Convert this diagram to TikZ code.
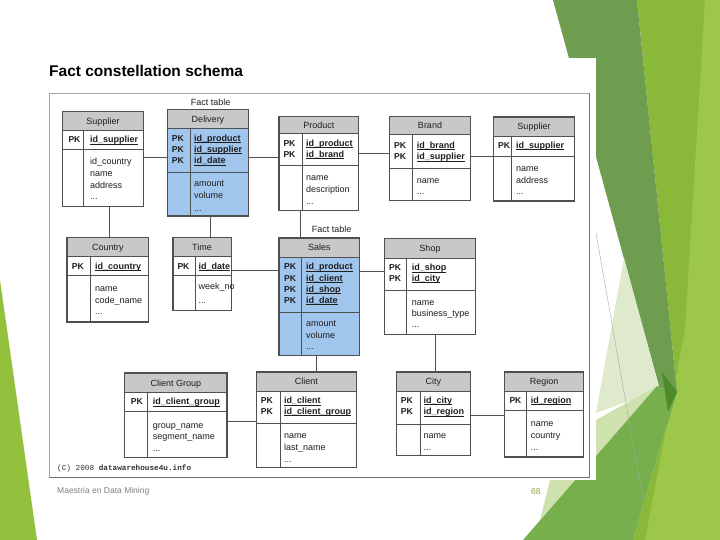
\documentclass[tikz,border=0pt]{standalone}
\usepackage{fontspec}
\setmainfont{Liberation Sans}
\setmonofont{Liberation Mono}
\usetikzlibrary{fit}
\definecolor{tline}{HTML}{505050}
\definecolor{hdrgray}{HTML}{C8C8C8}
\definecolor{factblue}{HTML}{A1C6EE}
\definecolor{txtcol}{HTML}{1E1E1E}
\definecolor{framelt}{HTML}{A8A8A8}
\definecolor{framedk}{HTML}{707070}
\definecolor{gmid}{HTML}{8AB839}
\definecolor{glight}{HTML}{9DC74A}
\definecolor{gdark}{HTML}{6F9D4F}
\definecolor{gpale}{HTML}{DFEACD}
\definecolor{glt}{HTML}{CFE2AE}
\definecolor{gmed}{HTML}{77AF4C}
\definecolor{gdeep}{HTML}{4E8B2D}
\definecolor{gleft}{HTML}{93C13D}
\definecolor{pagenum}{HTML}{8CA542}
\tikzset{
  tbody/.style={inner sep=0pt, draw=none},
  sepline/.style={draw=tline, line width=0.8pt},
  tborder/.style={draw=tline, line width=1.3pt},
  conn/.style={draw=tline, line width=0.9pt},
  ttext/.style={font=\fontsize{9}{11}\selectfont, text=txtcol, inner sep=0pt, anchor=base west, yshift=-3.2pt},
  htext/.style={font=\fontsize{9}{11}\selectfont, text=txtcol, inner sep=0pt, anchor=base, yshift=-3.2pt},
}
\newcommand\keyf[1]{\setbox0\hbox{\textbf{#1}}\rlap{\rule[-1.4pt]{\wd0}{0.6pt}}\box0}
\newcommand\ddd{...}
\newcommand\pkl{{\fontsize{8.6}{11}\selectfont\textbf{PK}}}
\newcommand\tbl[9]{%
  \node[tbody, fill=#9, fit={(#2,#3)(#4,#5)}] (#1) {};
  \fill[hdrgray] (#2,#3) rectangle (#4,#6);
  \draw[sepline] (#2,#6) -- (#4,#6) (#2,#7) -- (#4,#7) (#8,#6) -- (#8,#5);
  \draw[tborder] (#1.north west) rectangle (#1.south east);
}
\newcommand\rows[5]{\foreach \t [count=\i from 0] in {#5} {\node[ttext] (#1\i) at (#2,#3+\i*#4) {\t};}}
\begin{document}
\begin{tikzpicture}[x=1pt,y=-1pt]
\useasboundingbox (0,0) rectangle (720,540);
% background decoration
\fill[gmid] (637,0) -- (720,0) -- (720,540) -- (633,540) -- (677,392) -- cycle;
\fill[glight] (705,0) -- (720,0) -- (720,540) -- (645,540) -- (685,330) -- cycle;
\fill[gdark] (553,0) -- (637,0) -- (677,392) -- (660,390) -- cycle;
\fill[gpale] (624,258) -- (660,390) -- (596,413) -- cycle;
\fill[glt] (657,386) -- (560,440) -- (540,520) -- cycle;
\fill[gmed] (523,540) -- (657,386) -- (677,392) -- (633,540) -- cycle;
\fill[gdeep] (662,372) -- (677,392) -- (668,412) -- cycle;
\draw[gray!70, line width=0.4pt] (596,233) -- (643,500);
\fill[gleft] (0,280) -- (37,540) -- (0,540) -- cycle;
% picture area
\fill[white] (45,58) rectangle (596,480);
\draw[framelt, line width=0.8pt] (49,93) rectangle (589,477);
\draw[framedk, line width=0.8pt] (589,93) -- (589,477) -- (49,477);
% title
\node[anchor=base west, inner sep=0pt, font=\fontsize{15.5}{18}\selectfont\bfseries] (title) at (49,76.5) {Fact constellation schema};
% tables
\tbl{sup1}{62.7}{111.7}{143.3}{206}{130}{149.3}{83.3}{white}
\node[htext] (sup1h) at (103,120.9) {Supplier};
\rows{sup1k}{68.3}{139.7}{11.5}{\pkl}
\rows{sup1p}{90}{139.7}{11.5}{\keyf{id\_supplier}}
\rows{sup1a}{90}{161.7}{11.7}{id\_country,name,address,\ddd}

\tbl{del}{167.7}{110}{248.3}{215.7}{128.3}{172.7}{190}{factblue}
\node[htext] (delh) at (208,119.2) {Delivery};
\node[htext] (fact1) at (210.7,102.3) {Fact table};
\rows{delk}{171.7}{138.3}{11.2}{\pkl,\pkl,\pkl}
\rows{delp}{194}{138.3}{11.2}{\keyf{id\_product},\keyf{id\_supplier},\keyf{id\_date}}
\rows{dela}{194}{183.3}{12.5}{amount,volume,\ddd}

\tbl{prod}{279.3}{116.7}{358.3}{210}{133.3}{165.7}{302.3}{white}
\node[htext] (prodh) at (318.8,125) {Product};
\rows{prodk}{283.3}{143.3}{10.7}{\pkl,\pkl}
\rows{prodp}{306}{143.3}{10.7}{\keyf{id\_product},\keyf{id\_brand}}
\rows{proda}{306}{177.3}{12.2}{name,description,\ddd}

\tbl{brand}{390}{116.7}{470}{200}{134.5}{168.3}{412.7}{white}
\node[htext] (brandh) at (430,125.6) {Brand};
\rows{brandk}{394}{145}{11.7}{\pkl,\pkl}
\rows{brandp}{416.7}{145}{11.7}{\keyf{id\_brand},\keyf{id\_supplier}}
\rows{branda}{416.7}{180}{11.7}{name,\ddd}

\tbl{sup2}{494}{117.3}{574}{200.7}{136}{156}{511.7}{white}
\node[htext] (sup2h) at (534,126.6) {Supplier};
\rows{sup2k}{498}{145}{11.7}{\pkl}
\rows{sup2p}{516}{145}{11.7}{\keyf{id\_supplier}}
\rows{sup2a}{516}{168.3}{11.7}{name,address,\ddd}

\tbl{country}{67.3}{237.7}{148.3}{321.7}{256.7}{275}{90.7}{white}
\node[htext] (countryh) at (107.8,247.2) {Country};
\rows{countryk}{71.7}{266}{11.7}{\pkl}
\rows{countryp}{95}{266}{11.7}{\keyf{id\_country}}
\rows{countrya}{95}{288.3}{11.7}{name,code\_name,\ddd}

\tbl{time}{173.3}{237.7}{231.5}{310}{256.7}{275}{195}{white}
\node[htext] (timeh) at (202,247.2) {Time};
\rows{timek}{177.3}{266}{11.7}{\pkl}
\rows{timep}{198.5}{266}{11.7}{\keyf{id\_date}}
\rows{timea}{198.5}{286.7}{13.3}{week\_no,\ddd}

\tbl{sales}{279.3}{238.3}{359.3}{355}{257.3}{312.3}{301.7}{factblue}
\node[htext] (salesh) at (319.3,247.8) {Sales};
\node[htext] (fact2) at (331.7,229) {Fact table};
\rows{salesk}{284}{266.7}{11.1}{\pkl,\pkl,\pkl,\pkl}
\rows{salesp}{306}{266.7}{11.1}{\keyf{id\_product},\keyf{id\_client},\keyf{id\_shop},\keyf{id\_date}}
\rows{salesa}{306}{323.3}{11.7}{amount,volume,\ddd}

\tbl{shop}{385}{239}{475}{334.3}{258.3}{290}{406.7}{white}
\node[htext] (shoph) at (430,248.7) {Shop};
\rows{shopk}{389}{267.7}{10.7}{\pkl,\pkl}
\rows{shopp}{411.7}{267.7}{10.7}{\keyf{id\_shop},\keyf{id\_city}}
\rows{shopa}{411.7}{302.3}{11}{name,business\_type,\ddd}

\tbl{cgroup}{125}{373.3}{226.7}{457.3}{392.3}{411.7}{147.3}{white}
\node[htext] (cgrouph) at (175.8,382.8) {Client Group};
\rows{cgroupk}{130.7}{401.7}{11.7}{\pkl}
\rows{cgroupp}{152.7}{401.7}{11.7}{\keyf{id\_client\_group}}
\rows{cgroupa}{152.7}{425}{11.7}{group\_name,segment\_name,\ddd}

\tbl{client}{256.7}{372.3}{356}{467}{391}{423.3}{280}{white}
\node[htext] (clienth) at (306.3,381.6) {Client};
\rows{clientk}{260.7}{400.7}{10.3}{\pkl,\pkl}
\rows{clientp}{284}{400.7}{10.3}{\keyf{id\_client},\keyf{id\_client\_group}}
\rows{clienta}{284}{435.7}{11.7}{name,last\_name,\ddd}

\tbl{city}{396.7}{372.3}{470}{455}{391}{424.3}{420.7}{white}
\node[htext] (cityh) at (433.3,381.6) {City};
\rows{cityk}{400.7}{400}{11.7}{\pkl,\pkl}
\rows{cityp}{423.3}{400}{11.7}{\keyf{id\_city},\keyf{id\_region}}
\rows{citya}{423.3}{435.7}{12}{name,\ddd}

\tbl{region}{505}{372.3}{583.3}{456.7}{391}{410}{526.7}{white}
\node[htext] (regionh) at (544.2,381.6) {Region};
\rows{regionk}{509.3}{400}{11.7}{\pkl}
\rows{regionp}{530.7}{400}{11.7}{\keyf{id\_region}}
\rows{regiona}{530.7}{423.3}{11.8}{name,country,\ddd}

% connectors
\draw[conn] (sup1.east |- 0,157.7) -- (del.west |- 0,157.7);
\draw[conn] (del.east |- 0,157.7) -- (prod.west |- 0,157.7);
\draw[conn] (prod.east |- 0,153.3) -- (brand.west |- 0,153.3);
\draw[conn] (brand.east |- 0,156.7) -- (sup2.west |- 0,156.7);
\draw[conn] (sup1.south -| 109.3,0) -- (country.north -| 109.3,0);
\draw[conn] (del.south -| 210.5,0) -- (time.north -| 210.5,0);
\draw[conn] (prod.south -| 300.7,0) -- (sales.north -| 300.7,0);
\draw[conn] (time.east |- 0,270) -- (sales.west |- 0,270);
\draw[conn] (sales.east |- 0,271.7) -- (shop.west |- 0,271.7);
\draw[conn] (sales.south -| 316.7,0) -- (client.north -| 316.7,0);
\draw[conn] (shop.south -| 435.5,0) -- (city.north -| 435.5,0);
\draw[conn] (cgroup.east |- 0,421) -- (client.west |- 0,421);
\draw[conn] (city.east |- 0,415.7) -- (region.west |- 0,415.7);

% footer texts
\node[anchor=base west, inner sep=0pt, font=\fontsize{7.7}{9}\ttfamily, text=black!80] (copy) at (57,470.5) {(C) 2008 \textbf{datawarehouse4u.info}};
\node[anchor=base west, inner sep=0pt, font=\fontsize{8.5}{10}\selectfont, text=black!50] (footer) at (57,493) {Maestria en Data Mining};
\node[anchor=base west, inner sep=0pt, font=\fontsize{8.5}{10}\selectfont, text=pagenum] (pnum) at (531,494) {68};
\end{tikzpicture}
\end{document}
